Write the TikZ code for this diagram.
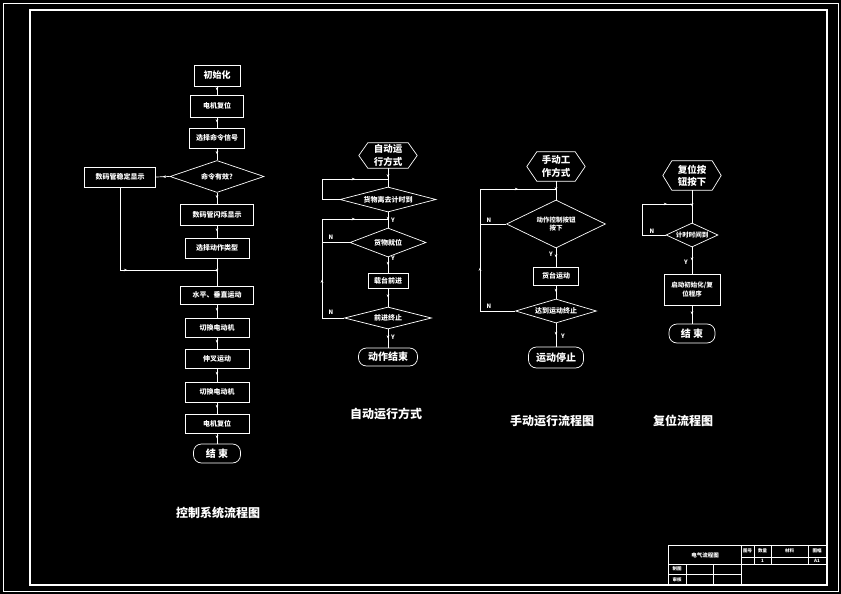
\documentclass[tikz,border=0pt]{standalone}
\usepackage{fontspec}
\setmainfont{Noto Sans CJK SC}
\usetikzlibrary{shapes.geometric,decorations.markings,arrows.meta}
\newcommand\fz[1]{\fontsize{#1}{1.3\dimexpr#1pt\relax}\selectfont\bfseries}
\tikzset{
 ln/.style={draw=white, line width=0.7pt},
 flow/.style={ln, postaction={decorate}, decoration={markings, mark=at position 0.5 with {\arrow[white]{Stealth[length=3.2pt,width=2.6pt]}}}},
 box/.style={draw=white, line width=0.7pt, text=white, inner sep=0pt, font=\fz{7}, align=center},
 dia/.style={diamond, draw=white, line width=0.7pt, text=white, inner sep=0pt, aspect=3, font=\fz{7}, align=center},
 term/.style={draw=white, line width=0.7pt, text=white, inner sep=0pt, rounded corners=8pt, font=\fz{10}},
 hexn/.style={text=white, inner sep=0pt, font=\fz{9.5}, align=center},
 lab/.style={text=white, inner sep=0pt, font=\fz{6}},
 captxt/.style={text=white, inner sep=0pt, font=\fz{12}},
 tb/.style={text=white, inner sep=0pt, font=\fz{4.5}},
}
\begin{document}
\begin{tikzpicture}[x=1pt,y=-1pt]
\fill[black] (0,0) rectangle (841,594);
\useasboundingbox (0,0) rectangle (841,594);
% frames
\draw[white, line width=0.6pt] (3,3) rectangle (838,591);
\draw[white, line width=1.6pt] (30,10) rectangle (827,585);

% ---------- control system flowchart ----------
\node[box, minimum width=46, minimum height=21, font=\fz{9}] (init) at (217,75.5) {初始化};
\node[box, minimum width=53, minimum height=22] (r1) at (217,106) {电机复位};
\node[box, minimum width=55, minimum height=20] (sel) at (217,138) {选择命令信号};
\node[dia, minimum width=94, minimum height=32] (d1) at (217,176.5) {命令有效?};
\node[box, minimum width=71, minimum height=20] (ld) at (120,177) {数码管稳定显示};
\node[box, minimum width=73, minimum height=21] (disp) at (217,214.5) {数码管闪烁显示};
\node[box, minimum width=64, minimum height=20] (type) at (217,248) {选择动作类型};
\node[box, minimum width=73, minimum height=18] (hv) at (217,295) {水平、垂直运动};
\node[box, minimum width=64, minimum height=19] (sw1) at (217,327.5) {切换电动机};
\node[box, minimum width=64, minimum height=19] (fork) at (217,358.5) {伸叉运动};
\node[box, minimum width=64, minimum height=20] (sw2) at (217,392) {切换电动机};
\node[box, minimum width=64, minimum height=19] (r2) at (217,423.5) {电机复位};
\node[term, minimum width=47, minimum height=19] (end1) at (217,453.5) {结\ 束};
\coordinate (j1) at (217,270);

\draw[flow] (init) -- (r1);
\draw[flow] (r1) -- (sel);
\draw[flow] (sel) -- (d1);
\draw[flow] (d1) -- (disp);
\draw[flow] (d1.west) -- (ld.east);
\draw[flow] (disp) -- (type);
\draw[flow] (ld.south) |- (j1);
\draw[flow] (type) -- (hv);
\draw[flow] (hv) -- (sw1);
\draw[flow] (sw1) -- (fork);
\draw[flow] (fork) -- (sw2);
\draw[flow] (sw2) -- (r2);
\draw[flow] (r2) -- (end1);
\node[captxt] (c1) at (218,513) {控制系统流程图};

% ---------- automatic mode ----------
\node[hexn, minimum width=40, minimum height=25] (hx1) at (388,155.5) {自动运\\行方式};
\draw[ln] (hx1.north west) -- (hx1.north east) -- ([xshift=9pt]hx1.east) -- (hx1.south east) -- (hx1.south west) -- ([xshift=-9pt]hx1.west) -- cycle;
\node[dia, minimum width=96, minimum height=25] (d2) at (388,199.5) {货物离去计时到};
\node[dia, minimum width=76, minimum height=29] (d3) at (388,242.5) {货物就位};
\node[box, minimum width=40, minimum height=15] (b1) at (388,280.5) {载台前进};
\node[dia, minimum width=87, minimum height=22] (d4) at (388,318) {前进终止};
\node[term, minimum width=59, minimum height=18] (e2) at (388,357) {动作结束};
\coordinate (j2a) at (388,179);
\coordinate (j2) at (388,219);
\coordinate (la) at (322,199.5);
\coordinate (lb) at (322,179);
\coordinate (lc) at (322,318);
\coordinate (ld2) at (322,219);
\coordinate (le) at (322,242.5);
\draw[flow] (hx1.south) -- (d2.north);
\draw[ln] (d2.west) -- (la) -- (lb);
\draw[flow] (lb) -- (j2a);
\draw[flow] (d2.south) -- (d3.north);
\draw[ln] (d3.west) -- (le);
\draw[flow] (d4.west) -- (lc) -- (ld2);
\draw[flow] (ld2) -- (j2);
\draw[flow] (d3.south) -- (b1.north);
\draw[flow] (b1.south) -- (d4.north);
\draw[flow] (d4.south) -- (e2.north);
\node[lab] (y1) at (393,220) {Y};
\node[lab] (y2) at (393,258) {Y};
\node[lab] (y3) at (393,337) {Y};
\node[lab] (n1) at (331,237) {N};
\node[lab] (n2) at (331,312) {N};
\node[captxt] (c2) at (386,414) {自动运行方式};

% ---------- manual mode ----------
\node[hexn, minimum width=38, minimum height=29] (hx2) at (556,166.5) {手动工\\作方式};
\draw[ln] (hx2.north west) -- (hx2.north east) -- ([xshift=10pt]hx2.east) -- (hx2.south east) -- (hx2.south west) -- ([xshift=-10pt]hx2.west) -- cycle;
\node[dia, minimum width=99, minimum height=48, font=\fz{6.5}] (d5) at (556,224) {动作控制按钮\\按下};
\node[box, minimum width=45, minimum height=18] (b2) at (556,276) {货台运动};
\node[dia, minimum width=81, minimum height=24] (d6) at (556,311) {达到运动终止};
\node[term, minimum width=55, minimum height=21] (e3) at (556,357.5) {运动停止};
\coordinate (j3) at (556,189);
\coordinate (ma) at (480,224);
\coordinate (mb) at (480,311);
\coordinate (mc) at (480,189);
\draw[flow] (hx2.south) -- (d5.north);
\draw[ln] (d5.west) -- (ma);
\draw[flow] (d6.west) -- (mb) -- (mc);
\draw[flow] (mc) -- (j3);
\draw[flow] (d5.south) -- (b2.north);
\draw[flow] (b2.south) -- (d6.north);
\draw[flow] (d6.south) -- (e3.north);
\node[lab] (n3) at (489,220) {N};
\node[lab] (n4) at (489,306) {N};
\node[lab] (y4) at (551,254) {Y};
\node[lab] (y5) at (563,336) {Y};
\node[captxt] (c3) at (552,421) {手动运行流程图};

% ---------- reset ----------
\node[hexn, minimum width=40, minimum height=29] (hx3) at (692,175.5) {复位按\\钮按下};
\draw[ln] (hx3.north west) -- (hx3.north east) -- ([xshift=9pt]hx3.east) -- (hx3.south east) -- (hx3.south west) -- ([xshift=-9pt]hx3.west) -- cycle;
\node[dia, minimum width=52, minimum height=24, font=\fz{6.5}] (d7) at (692,235) {计时时间到};
\node[box, minimum width=56, minimum height=31, font=\fz{6.5}] (b3) at (692,289.5) {启动初始化/复\\位程序};
\node[term, minimum width=46, minimum height=19] (e4) at (692,333.5) {结\ 束};
\coordinate (j4) at (692,204);
\coordinate (ra) at (642,235);
\coordinate (rb) at (642,204);
\draw[flow] (hx3.south) -- (d7.north);
\draw[ln] (d7.west) -- (ra) -- (rb);
\draw[flow] (rb) -- (j4);
\draw[flow] (d7.south) -- (b3.north);
\draw[flow] (b3.south) -- (e4.north);
\node[lab] (n5) at (652,231) {N};
\node[lab] (y6) at (686,262) {Y};
\node[captxt] (c4) at (683,421) {复位流程图};

% ---------- title block ----------
\draw[white, line width=1pt] (668,585) -- (668,545) -- (827,545);
\draw[white, line width=0.6pt] (741,545) -- (741,585);
\draw[white, line width=0.6pt] (668,564) -- (827,564);
\draw[white, line width=0.6pt] (741,557) -- (827,557);
\draw[white, line width=0.6pt] (668,574) -- (741,574);
\draw[white, line width=0.6pt] (686,564) -- (686,585);
\draw[white, line width=0.6pt] (713,564) -- (713,585);
\draw[white, line width=0.6pt] (754,545) -- (754,564);
\draw[white, line width=0.6pt] (771,545) -- (771,564);
\draw[white, line width=0.6pt] (808,545) -- (808,564);
\node[tb, font=\fz{5.5}] (t1) at (705,555) {电气流程图};
\node[tb] (t2) at (677,569) {制图};
\node[tb] (t3) at (677,579.5) {审核};
\node[tb] (t4) at (747.5,551) {图号};
\node[tb] (t5) at (762.5,551) {数量};
\node[tb] (t6) at (789.5,551) {材料};
\node[tb] (t7) at (817,551) {图幅};
\node[tb] (t8) at (762.5,560.5) {1};
\node[tb] (t9) at (817,560.5) {A1};
\end{tikzpicture}
\end{document}
